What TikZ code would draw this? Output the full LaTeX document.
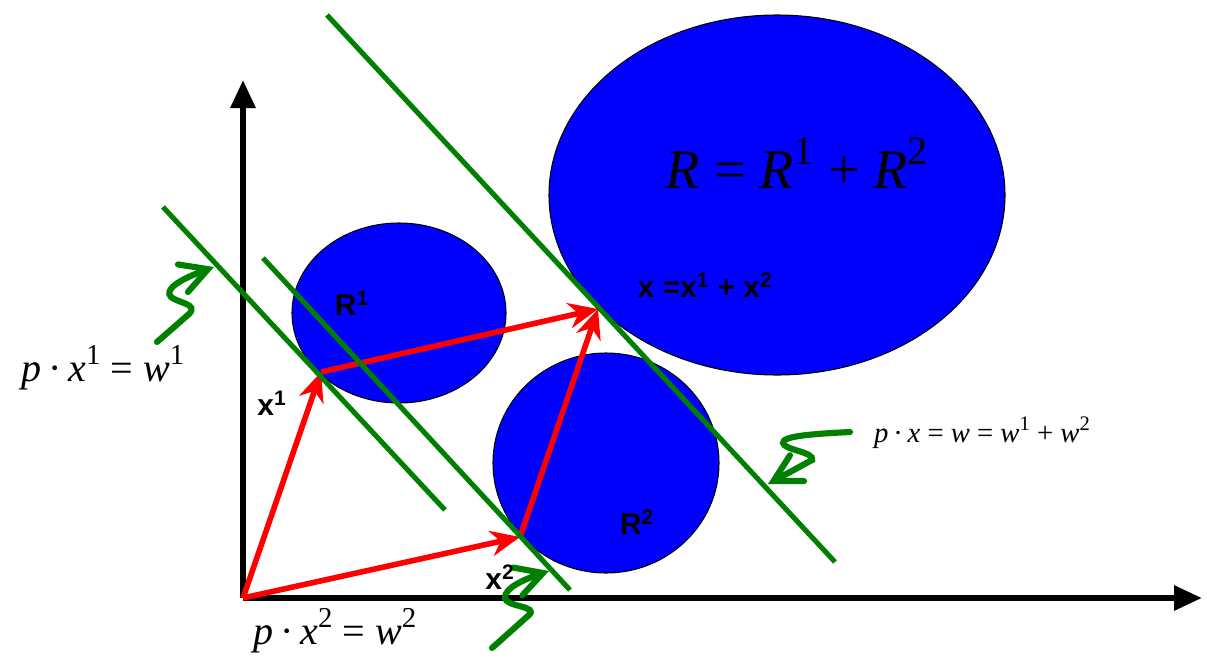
\documentclass[tikz,border=0pt]{standalone}
\usepackage{fontspec}
\usepackage{graphicx}
\setmainfont{Liberation Serif}
\newfontfamily\lsans{Liberation Sans}
\usetikzlibrary{arrows.meta}
\definecolor{dgreen}{RGB}{0,128,0}
\definecolor{eblue}{RGB}{0,0,255}
\definecolor{ered}{RGB}{255,0,0}
\newcommand\mi[1]{\textit{#1}}
\newcommand\cd{\,·\,}
\newcommand\up[1]{\raisebox{0.42em}{\scalebox{0.72}{#1}}}
\begin{document}
\begin{tikzpicture}[x=0.75pt,y=-0.75pt,
  axis/.style={line width=4.5pt,-{Triangle[length=21pt,width=18pt]}},
  region/.style={draw=black,line width=0.8pt,fill=eblue},
  budget/.style={dgreen,line width=3.8pt},
  vec/.style={ered,line width=4.2pt,-{Stealth[length=22pt,width=19pt,inset=7pt]}},
  squig/.style={dgreen,line width=4.6pt,line cap=round,-{Straight Barb[length=20pt,width=22pt,line cap=round]}},
  lbl/.style={font=\lsans\bfseries\fontsize{22.5}{24}\selectfont,inner sep=0pt},
  eq/.style={font=\fontsize{30}{32}\selectfont,inner sep=0pt},
  eqs/.style={font=\fontsize{21.5}{24}\selectfont,inner sep=0pt}]
\useasboundingbox (0,0) rectangle (1207,664);
% points
\coordinate (O) at (243,598);
\coordinate (X1) at (321,372);
\coordinate (X2) at (520,537);
\coordinate (X) at (598,309);
\coordinate (Ytop) at (243,80);
\coordinate (Xend) at (1202,598);
% axes
\draw[axis] (O) -- (Ytop);
\draw[axis] (O) -- (Xend);
% regions
\draw[region] (399,313) ellipse [x radius=107, y radius=90];
\draw[region] (606,463) ellipse [x radius=113, y radius=110];
\draw[region] (777,195) ellipse [x radius=228, y radius=180];
% vectors
\draw[vec] (O) -- (X1);
\draw[vec] (O) -- (X2);
\draw[vec] (X1) -- (X);
\draw[vec] (X2) -- (X);
% budget lines
\coordinate (A1) at (163,207); \coordinate (A2) at (445,510);
\coordinate (B1) at (263,258); \coordinate (B2) at (570,590);
\coordinate (C1) at (327,15);  \coordinate (C2) at (835,562);
\draw[budget] (A1) -- (A2);
\draw[budget] (B1) -- (B2);
\draw[budget] (C1) -- (C2);
% squiggly pointers
\coordinate (S1) at (157,342); \coordinate (T1) at (214,267);
\coordinate (S2) at (850,432); \coordinate (T2) at (768,484);
\coordinate (S3) at (492,648); \coordinate (T3) at (549,571);
\draw[squig] (S1) -- (189,314) .. controls (199,304) and (178,303) .. (171,297) .. controls (164,290) and (178,280) .. (T1);
\draw[squig] (S2) .. controls (812,434) and (782,436) .. (783,443) .. controls (784,450) and (815,452) .. (812,460) -- (T2);
\draw[squig] (S3) -- (529,615) .. controls (539,606) and (506,607) .. (505,598) .. controls (504,588) and (525,579) .. (T3);
% labels
\node[font=\fontsize{42}{46}\selectfont,inner sep=0pt] (bigR) at (797,163) {\mi{R} = \mi{R}\up{1} + \mi{R}\up{2}};
\node[lbl] (xsum) at (705,285) {x =x\textsuperscript{1} + x\textsuperscript{2}};
\node[lbl] (r1) at (352,303) {R\textsuperscript{1}};
\node[lbl] (r2) at (637,522) {R\textsuperscript{2}};
\node[lbl] (x1) at (272,403) {x\textsuperscript{1}};
\node[lbl] (x2) at (500,577) {x\textsuperscript{2}};
\node[eq] (e1) at (103,368) {\mi{p}\cd\mi{x}\up{1} = \mi{w}\up{1}};
\node[eq] (e2) at (335,631) {\mi{p}\cd\mi{x}\up{2} = \mi{w}\up{2}};
\node[eqs] (e3) at (982,433) {\mi{p}\cd\mi{x} = \mi{w} = \mi{w}\up{1} + \mi{w}\up{2}};
\end{tikzpicture}
\end{document}
